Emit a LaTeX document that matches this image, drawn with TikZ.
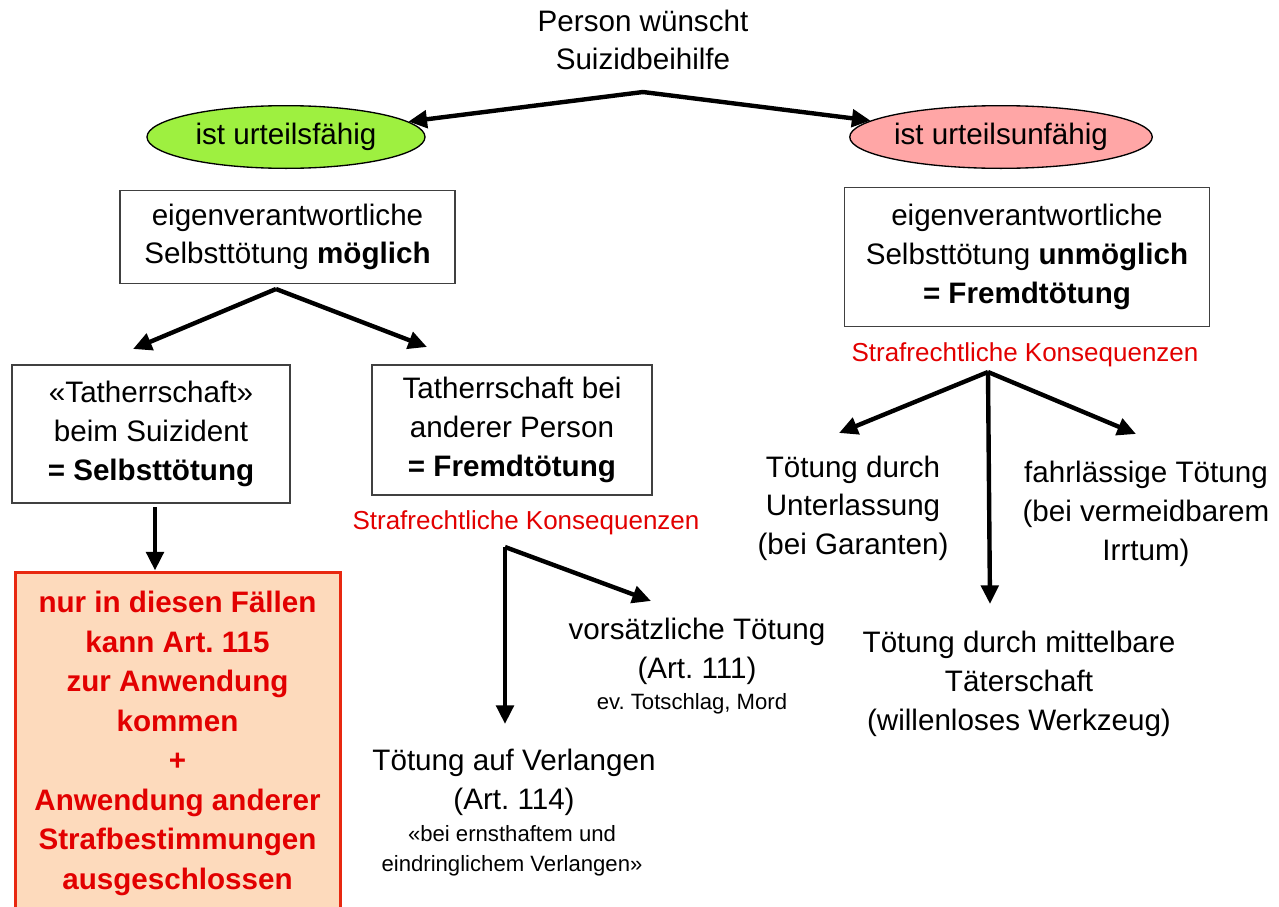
\documentclass[tikz,border=0pt]{standalone}
\usepackage{fontspec}
\setmainfont{Liberation Sans}
\usetikzlibrary{arrows.meta,shapes.geometric}
\frenchspacing

\definecolor{okgreen}{RGB}{158,240,64}
\definecolor{nopink}{RGB}{255,166,166}
\definecolor{peach}{RGB}{253,218,188}
\definecolor{boxred}{RGB}{232,40,16}
\definecolor{txtred}{RGB}{226,0,0}

\tikzset{
  pfeil/.style={line width=3.3pt,-{Triangle[length=14pt,width=13pt]}},
  haupt/.style={align=center,inner sep=0pt,font=\fontsize{22.2}{29}\selectfont},
  kasten/.style={haupt,draw=black!75,line width=1.1pt},
  oval/.style={haupt,ellipse,draw=black,line width=1pt,minimum width=208.5pt,minimum height=47pt},
  folge/.style={align=center,inner sep=0pt,text=txtred,font=\fontsize{19.5}{24}\selectfont},
  klein/.style={align=center,inner sep=0pt,font=\fontsize{16.6}{22.5}\selectfont}
}

\begin{document}
\begin{tikzpicture}[x=0.75pt,y=0.75pt,yscale=-1,xscale=1]
\useasboundingbox (0,0) rectangle (1279,907);

%Top
\node[haupt] (person) at (643,40) {Person wünscht\\Suizidbeihilfe};
\coordinate (oben) at (643,92);
\node[oval,fill=okgreen] (faehig) at (286,137) {ist urteilsfähig};
\node[oval,fill=nopink] (unfaehig) at (1001,137) {ist urteilsunfähig};
\draw[pfeil] (oben) -- (faehig);
\draw[pfeil] (oben) -- (unfaehig);

%Left branch
\node[kasten,minimum width=251.25pt,minimum height=69.75pt] (moeglich) at (287.5,237) {eigenverantwortliche\\Selbsttötung \textbf{möglich}};
\coordinate (gabel) at (276,289);
\coordinate (zuselbst) at (133,349);
\coordinate (zufremd) at (427,347);
\draw[pfeil] (gabel) -- (zuselbst);
\draw[pfeil] (gabel) -- (zufremd);

\node[kasten,minimum width=208.5pt,minimum height=103.5pt] (selbst) at (151,434) {«Tatherrschaft»\\beim Suizident\\\textbf{= Selbsttötung}};
\node[kasten,minimum width=210pt,minimum height=97.5pt] (fremd) at (512,430) {Tatherrschaft bei\\anderer Person\\\textbf{= Fremdtötung}};

\node[haupt,draw=boxred,line width=2.25pt,fill=peach,text=txtred,font=\fontsize{22.2}{29.6}\selectfont\bfseries,minimum width=243.75pt,minimum height=257.25pt] (nur) at (177.5,743.5) {nur in diesen Fällen\\kann Art. 115\\zur Anwendung\\kommen\\+\\Anwendung anderer\\Strafbestimmungen\\ausgeschlossen};
\coordinate (ab) at (155,507);
\draw[pfeil] (ab) -- (ab |- nur.north);

\node[folge] (konsL) at (526,523) {Strafrechtliche Konsequenzen};
\coordinate (gabelL) at (505,547);
\coordinate (zuverl) at (505,724);
\coordinate (zuvors) at (651,601);
\draw[pfeil] (gabelL) -- (zuverl);
\draw[pfeil] (gabelL) -- (zuvors);

\node[haupt] (vors) at (697,651) {vorsätzliche Tötung\\(Art. 111)};
\node[klein] (totschlag) at (692,704) {ev. Totschlag, Mord};
\node[haupt] (verl) at (514,782) {Tötung auf Verlangen\\(Art. 114)};
\node[klein] (ernst) at (512,851) {«bei ernsthaftem und\\eindringlichem Verlangen»};

%Right branch
\node[kasten,minimum width=273.75pt,minimum height=104.25pt] (unmoeglich) at (1027,257) {eigenverantwortliche\\Selbsttötung \textbf{unmöglich}\\\textbf{= Fremdtötung}};
\node[folge] (konsR) at (1025,355) {Strafrechtliche Konsequenzen};
\coordinate (gabelR) at (988,372);
\coordinate (zuunter) at (839,433);
\coordinate (zumittel) at (990,604);
\coordinate (zufahr) at (1136,434);
\draw[pfeil] (gabelR) -- (zuunter);
\draw[pfeil] (gabelR) -- (zumittel);
\draw[pfeil] (gabelR) -- (zufahr);

\node[haupt] (unter) at (853,508) {Tötung durch\\Unterlassung\\(bei Garanten)};
\node[haupt] (fahr) at (1146,514) {fahrlässige Tötung\\(bei vermeidbarem\\Irrtum)};
\node[haupt] (mittel) at (1019,684) {Tötung durch mittelbare\\Täterschaft\\(willenloses Werkzeug)};

\end{tikzpicture}
\end{document}
